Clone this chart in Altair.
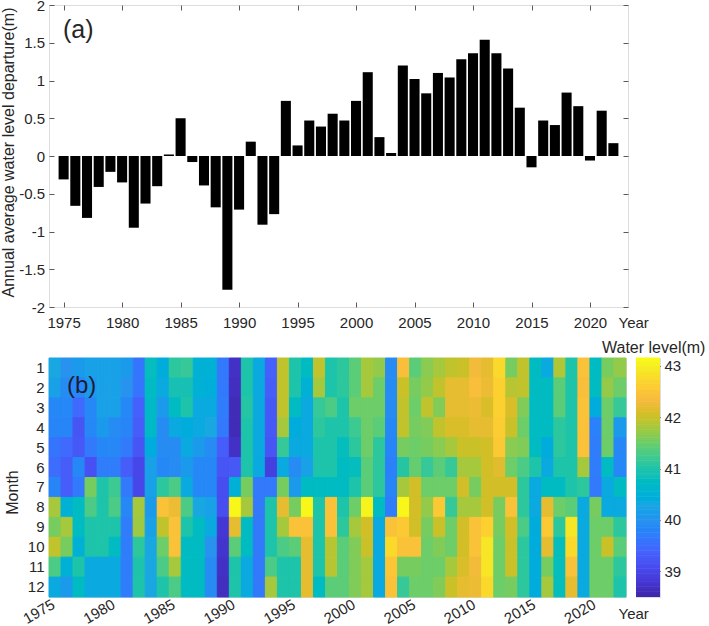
import altair as alt
import numpy as np
import pandas as pd

FONT = "Liberation Sans"
INK = "#262626"
FRAME = "#5a5a5a"

years = list(range(1975, 2023))

# annual average water level departure (m)
departure = [-0.31, -0.66, -0.82, -0.41, -0.21, -0.35, -0.95, -0.63, -0.40, 0.02,
             0.50, -0.08, -0.39, -0.68, -1.77, -0.71, 0.19, -0.91, -0.77, 0.73,
             0.14, 0.47, 0.39, 0.56, 0.47, 0.73, 1.11, 0.25, 0.04, 1.20,
             1.02, 0.83, 1.10, 1.04, 1.28, 1.36, 1.54, 1.36, 1.16, 0.64,
             -0.15, 0.47, 0.41, 0.84, 0.66, -0.06, 0.60, 0.17]

# monthly water level (m), one row per year, January..December
water_level = [
    [40.3, 40.2, 39.85, 39.8, 39.6, 39.5, 39.8, 41.8, 41.55, 41.95, 41.3, 40.35],
    [40.0, 39.9, 39.85, 39.8, 39.45, 39.3, 39.3, 40.5, 41.8, 41.55, 40.5, 40.1],
    [40.1, 39.85, 39.45, 39.2, 39.25, 39.85, 39.65, 40.75, 40.75, 40.5, 41.0, 40.75],
    [40.2, 40.1, 39.85, 39.85, 39.65, 39.15, 41.55, 41.3, 41.0, 41.0, 40.35, 40.35],
    [40.2, 40.2, 40.2, 40.1, 39.85, 39.7, 41.0, 41.0, 41.0, 41.0, 40.35, 40.35],
    [40.2, 40.2, 40.2, 39.9, 39.85, 39.7, 41.2, 41.3, 41.0, 40.75, 40.35, 40.35],
    [40.1, 40.0, 39.85, 39.8, 39.65, 39.3, 39.65, 39.85, 39.7, 39.7, 39.7, 39.7],
    [39.6, 39.6, 39.35, 39.3, 39.2, 39.0, 39.0, 41.8, 41.75, 41.1, 41.0, 41.0],
    [40.8, 40.75, 40.7, 40.7, 40.4, 40.2, 40.2, 40.1, 40.2, 40.3, 40.3, 40.3],
    [40.4, 40.35, 40.1, 39.9, 39.9, 39.85, 41.1, 42.45, 41.95, 41.5, 41.3, 41.0],
    [41.1, 40.9, 40.75, 40.35, 39.9, 39.9, 41.3, 42.25, 42.45, 42.45, 41.8, 41.3],
    [41.15, 40.9, 41.0, 40.4, 40.35, 40.1, 40.35, 41.3, 41.0, 40.75, 40.75, 40.75],
    [40.5, 40.5, 40.35, 40.35, 40.1, 39.85, 39.85, 40.3, 40.75, 40.75, 40.75, 40.75],
    [40.5, 40.45, 40.35, 40.3, 39.9, 39.85, 39.85, 40.2, 40.35, 40.0, 39.9, 39.9],
    [39.65, 39.65, 39.7, 39.65, 39.3, 39.2, 39.1, 39.1, 38.8, 38.75, 38.7, 38.65],
    [38.7, 38.65, 38.6, 38.6, 38.7, 39.25, 40.5, 43.1, 42.2, 41.4, 41.0, 41.0],
    [41.0, 41.0, 41.05, 41.0, 41.0, 41.0, 41.55, 41.8, 40.75, 40.75, 40.35, 40.35],
    [40.35, 40.35, 40.35, 40.35, 40.35, 40.35, 39.65, 39.65, 39.65, 39.65, 39.65, 39.65],
    [39.35, 39.3, 39.25, 39.25, 39.2, 38.9, 39.65, 41.0, 41.0, 41.0, 41.3, 41.8],
    [41.95, 41.95, 41.95, 41.8, 41.15, 40.35, 41.55, 42.2, 41.8, 41.3, 41.0, 41.0],
    [41.0, 41.0, 40.75, 40.4, 40.35, 39.9, 40.1, 41.55, 42.45, 41.4, 41.0, 41.0],
    [40.75, 40.5, 40.35, 40.35, 40.35, 40.2, 40.75, 43.1, 42.45, 42.2, 42.2, 42.2],
    [41.95, 41.8, 41.15, 41.1, 41.0, 41.0, 40.75, 41.0, 41.0, 41.0, 41.0, 40.75],
    [41.0, 41.0, 41.3, 41.0, 41.0, 41.0, 40.75, 42.45, 42.45, 41.9, 41.9, 41.4],
    [41.1, 41.1, 41.0, 41.0, 40.8, 40.75, 40.75, 41.0, 41.1, 41.4, 41.4, 41.4],
    [41.4, 41.4, 41.5, 41.2, 41.1, 40.8, 41.0, 41.5, 41.8, 41.6, 41.6, 41.6],
    [41.8, 41.8, 41.5, 41.5, 41.5, 41.4, 41.4, 43.05, 42.05, 42.0, 41.8, 41.8],
    [41.7, 41.5, 41.5, 41.4, 41.1, 41.1, 41.1, 40.75, 40.35, 40.35, 40.35, 40.35],
    [39.9, 39.9, 39.9, 39.85, 39.8, 39.75, 39.8, 39.7, 42.45, 42.75, 42.5, 42.45],
    [42.4, 42.0, 41.95, 41.95, 41.55, 41.05, 41.8, 43.1, 42.55, 42.45, 41.55, 41.15],
    [41.4, 41.55, 41.5, 41.55, 41.5, 41.45, 42.05, 42.05, 42.05, 42.45, 41.55, 41.5],
    [41.65, 41.7, 41.95, 41.6, 41.55, 41.15, 41.5, 41.7, 41.55, 41.5, 41.5, 41.5],
    [41.8, 41.95, 41.6, 41.95, 41.65, 41.4, 41.5, 42.55, 42.0, 41.6, 41.5, 41.6],
    [41.95, 42.2, 42.2, 42.1, 41.8, 41.15, 41.5, 41.15, 41.5, 41.5, 41.8, 42.0],
    [42.0, 42.2, 42.2, 42.1, 42.0, 41.8, 42.05, 41.8, 42.05, 42.05, 42.1, 42.2],
    [42.3, 42.4, 42.25, 42.2, 42.0, 41.8, 41.55, 41.8, 42.45, 42.45, 42.3, 42.25],
    [42.2, 42.25, 42.1, 42.2, 42.05, 42.05, 42.05, 42.05, 42.65, 42.9, 42.9, 42.75],
    [42.75, 42.65, 42.65, 42.6, 42.55, 42.15, 42.05, 41.55, 41.55, 41.5, 41.5, 41.5],
    [41.55, 41.9, 42.1, 42.0, 41.65, 41.5, 42.05, 42.45, 42.05, 42.0, 42.0, 41.55],
    [41.95, 41.95, 41.6, 41.5, 41.6, 41.3, 41.1, 41.1, 41.3, 41.1, 41.1, 41.1],
    [40.75, 40.75, 40.75, 40.75, 40.75, 41.0, 40.35, 40.35, 40.4, 40.4, 40.4, 40.4],
    [40.35, 40.75, 40.75, 40.75, 40.4, 40.35, 40.75, 42.2, 42.55, 42.2, 41.55, 41.8],
    [41.85, 41.4, 41.4, 41.1, 41.1, 41.0, 40.75, 41.5, 41.1, 40.8, 40.8, 40.8],
    [41.0, 41.0, 41.0, 41.0, 41.0, 41.0, 41.0, 41.4, 42.9, 42.75, 42.45, 42.2],
    [42.45, 42.4, 42.45, 42.45, 42.45, 41.8, 41.1, 40.35, 40.35, 40.35, 40.35, 40.35],
    [40.75, 40.75, 40.4, 39.75, 39.7, 39.7, 39.65, 41.55, 41.5, 41.5, 41.5, 41.5],
    [41.55, 41.7, 41.5, 41.5, 41.5, 40.75, 40.35, 40.35, 41.5, 42.0, 41.5, 41.5],
    [41.7, 41.5, 41.15, 40.1, 39.85, 39.85, 40.75, 40.35, 41.1, 41.4, 41.1, 41.0],
]

year_ticks = [1975, 1980, 1985, 1990, 1995, 2000, 2005, 2010, 2015, 2020]
dep_ticks = [-2, -1.5, -1, -0.5, 0, 0.5, 1, 1.5, 2]
level_ticks = [39, 40, 41, 42, 43]

# parula colormap, sampled along its 64-entry table
parula_index = [1, 5, 9, 13, 17, 21, 25, 29, 33, 37, 41, 45, 49, 53, 57, 61, 64]
parula = ["#3e26a8", "#4537d5", "#484cf0", "#4563fd", "#327bfc", "#2b91ef",
          "#20a5e3", "#08b4d0", "#19bfb6", "#37c897", "#64cd6f", "#9dc943",
          "#d1bf27", "#f8ba3d", "#fccf30", "#f5e924", "#f9fb15"]
lvl_min, lvl_max = 38.5, 43.15
stops = [lvl_min + (lvl_max - lvl_min) * (i - 1) / 63 for i in parula_index]


def parula_scale():
    return alt.Scale(domain=stops, range=parula, clamp=True)


# ---------------- (a) annual departure bars ----------------
dep = pd.DataFrame({"year": years, "departure": departure})
dep["left"] = dep["year"] - 0.43
dep["right"] = dep["year"] + 0.43
dep["zero"] = 0.0

x_year = alt.Scale(domain=[1973.75, 2023.25], nice=False, zero=False)
y_dep = alt.Scale(domain=[-2, 2], nice=False, zero=False)

inward = dict(domain=False, grid=False, tickColor=FRAME, tickSize=5, offset=-5,
              labelFont=FONT, labelFontSize=15, labelColor=INK,
              titleFont=FONT, titleColor=INK, titleFontWeight="normal")

bars = alt.Chart(dep).mark_rect(color="black").encode(
    x=alt.X("left:Q", scale=x_year,
            axis=alt.Axis(values=year_ticks, format="d", labelBaseline="alphabetic",
                          labelPadding=20, labelFlush=False,
                          title="Year", titleFontSize=15, titleX=569, titleY=25,
                          titleAlign="left", titleBaseline="alphabetic", **inward)),
    x2="right",
    y=alt.Y("departure:Q", scale=y_dep,
            axis=alt.Axis(values=dep_ticks, labelExpr="'' + datum.value",
                          labelPadding=4.5, labelFlush=False,
                          title="Annual average water level departure(m)",
                          titleFontSize=16, titleAngle=-90, titleX=-40.5, titleY=147,
                          titleAlign="center", titleBaseline="alphabetic", **inward)),
    y2="zero",
)

mirror = alt.Chart(dep).mark_point(opacity=0).encode(
    x=alt.X("year:Q", scale=x_year,
            axis=alt.Axis(orient="top", values=year_ticks, labels=False, title=None, **inward)),
    y=alt.Y("departure:Q", scale=y_dep,
            axis=alt.Axis(orient="right", values=dep_ticks, labels=False, title=None, **inward)),
)

tag_a = alt.Chart(pd.DataFrame({"t": ["(a)"]})).mark_text(
    align="left", baseline="alphabetic", font=FONT, fontSize=25, color=INK
).encode(text="t:N", x=alt.value(14), y=alt.value(33))

top = alt.layer(bars, mirror, tag_a).resolve_axis(
    x="independent", y="independent"
).properties(width=579, height=302)

# ---------------- (b) monthly water level heatmap ----------------
levels = pd.DataFrame(
    [(y, m + 1, water_level[i][m]) for i, y in enumerate(years) for m in range(12)],
    columns=["year", "month", "level"],
)

heat = alt.Chart(levels).mark_rect(strokeWidth=1).encode(
    x=alt.X("year:O", scale=alt.Scale(paddingInner=0, paddingOuter=0),
            axis=alt.Axis(values=year_ticks, labelAngle=-30, labelAlign="right",
                          labelBaseline="alphabetic", labelPadding=10, labelOffset=1,
                          ticks=False, domain=False, labelFont=FONT, labelFontSize=15,
                          labelColor=INK, labelOverlap=False,
                          title="Year", titleFont=FONT, titleFontSize=15, titleColor=INK,
                          titleFontWeight="normal", titleX=569, titleY=21.5,
                          titleAlign="left", titleBaseline="alphabetic", titleAngle=0)),
    y=alt.Y("month:O", scale=alt.Scale(paddingInner=0, paddingOuter=0),
            axis=alt.Axis(ticks=False, domain=False, labelPadding=5, labelFont=FONT,
                          labelFontSize=15, labelColor=INK,
                          title="Month", titleFont=FONT, titleFontSize=16, titleColor=INK,
                          titleFontWeight="normal", titleAngle=-90, titleX=-32, titleY=134,
                          titleAlign="center", titleBaseline="alphabetic")),
    color=alt.Color("level:Q", scale=parula_scale(), legend=None),
    stroke=alt.Stroke("level:Q", scale=parula_scale(), legend=None),
)

tag_b = alt.Chart(pd.DataFrame({"t": ["(b)"]})).mark_text(
    align="left", baseline="alphabetic", font=FONT, fontSize=24, color="#1c1c3a"
).encode(text="t:N", x=alt.value(18), y=alt.value(35))

heatmap = alt.layer(heat, tag_b).properties(width=577, height=239)

# colour bar drawn as a stack of thin cells on the level scale
colorbar_steps = np.linspace(lvl_min, lvl_max, 94)
cb = pd.DataFrame({"lo": colorbar_steps[:-1], "hi": colorbar_steps[1:] + 0.01})
cb["mid"] = (colorbar_steps[:-1] + colorbar_steps[1:]) / 2

colorbar = alt.Chart(cb).mark_rect().encode(
    y=alt.Y("lo:Q", scale=alt.Scale(domain=[lvl_min, lvl_max], nice=False, zero=False),
            axis=alt.Axis(orient="right", values=level_ticks, offset=-4, tickSize=4,
                          tickColor="#333333", domain=False, grid=False, labelPadding=4,
                          labelFont=FONT, labelFontSize=15, labelColor=INK, title=None)),
    y2="hi",
    color=alt.Color("mid:Q", scale=parula_scale(), legend=None),
).properties(
    width=24, height=239,
    title=alt.TitleParams("Water level(m)", anchor="start", frame="group", dx=-34,
                          dy=17, offset=5, baseline="alphabetic", font=FONT, fontSize=16,
                          fontWeight="normal", color=INK),
)

bottom = alt.hconcat(heatmap, colorbar, spacing=10, bounds="flush")

chart = alt.vconcat(top, bottom, spacing=51, bounds="flush").configure_view(
    stroke=FRAME, strokeWidth=1
).properties(
    padding={"left": 0, "top": -3, "right": 0, "bottom": 0}
).configure(background="white")

chart.save("out.html", embed_options={"renderer": "svg", "actions": False})
